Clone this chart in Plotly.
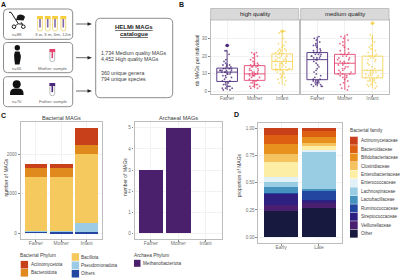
import re
import plotly.graph_objects as go

# ---------- data ----------
groups = ["Father", "Mother", "Infant"]
hq_father = [1,1,2,2,2,3,3,3,4,4,5,5,6,6,7,8,8,9,9,10,10,10,11,11,11,11,11,12,12,12,12,12,13,13,13,13,13,14,14,15,15,15,16,17,18,21,23,23,26]
hq_mother = [2,2,3,3,3,4,4,4,5,5,6,6,6.5,7,8,8,9,9,9,9,10,10,10,10,10,11,11,11,12,12,12,13,13,14,14,14,14.5,15,15,15,16,16,17,18,19,20,21,22,22]
hq_infant = [4,5,6,7,8,8,9,10,10,11,11,12,12,12,12.5,13,13,13,14,14,14,15,15,15,16,16,16,16,17,17,17,18,18,18,19,19,19,20,20,20,20,21,21,22,22,23,23,23,24,24,25,26,27,28,30,33,34]
mq_father = [3,3,3,4,4,4,5,5,5,6,6,6,7,7,8,9,10,11,12,13,14,15,16,17,18,18,19,19,19,20,20,20,21,21,21,22,22,22,23,23,24,25,26,26,27,28,29,30,31]
mq_mother = [1,2,3,4,5,6,7,8,8,9,9,10,10,10,11,11,12,12,13,13,14,14,15,15,16,16,16,17,17,18,18,19,19,20,20,21,21,21,22,23,24,25,26,27,28,29,30,31,32]
mq_infant = [2,3,3,4,4,5,5,6,6,6,7,7,8,8,9,9,9,10,10,10,11,11,11,12,12,12,13,14,15,16,17,18,18,19,19,20,20,20,21,22,23,24,24,25,26,28,30,32,38.5]
hq_outliers = [26, None, 34]
mq_outliers = [None, None, 38.5]

phyla = ["Others", "Pseudomonadota", "Bacillota", "Bacteroidota", "Actinomycetota"]
phyla_father = [55, 5, 1375, 228, 100]
phyla_mother = [45, 5, 1367, 228, 102]
phyla_infant = [42, 211, 1747, 236, 439]
archaea_counts = [3, 5, 0]

stages = ["Early", "Late"]
families = ["Actinomycetaceae", "Bacteroidaceae", "Bifidobacteriaceae", "Clostridiaceae",
            "Enterobacteriaceae", "Enterococcaceae", "Lachnospiraceae", "Lactobacillaceae",
            "Ruminococcaceae", "Streptococcaceae", "Veillonellaceae", "Other"]
family_early = [.067, .08, .093, .072, .132, .046, .05, .055, .005, .10, .055, .245]
family_late = [.03, .047, .061, .022, .04, .01, .345, .015, .085, .035, .04, .27]

# ---------- style ----------
group_colors = ["#4b2a7b", "#e5446f", "#f6d55c"]
phylum_colors = {"Actinomycetota": "#c8401a", "Bacteroidota": "#e08a1e", "Bacillota": "#f6c95f",
                 "Pseudomonadota": "#9ccbe6", "Others": "#2346a0"}
family_colors = ["#c8401a", "#dd5f12", "#e8911f", "#f4c25f", "#fdeea6", "#e2f1f7",
                 "#98cde3", "#4492bd", "#2346a0", "#2e2080", "#4b1f6f", "#17193f"]
archaea_color = "#4a1f6b"
FONT = "Liberation Sans"
W, H = 400, 279


def X(p):
    return p / W


def Y(p):
    return 1 - p / H


def dom_x(a, b):
    return [X(a), X(b)]


def dom_y(top, bottom):
    return [Y(bottom), Y(top)]


def P(s):
    """SVG path written in image pixels -> paper coordinates."""
    out, is_x = [], True
    for tok in re.findall(r"[A-Za-z]|-?\d+\.?\d*", s):
        if tok.isalpha():
            out.append(tok)
            is_x = True
        else:
            v = float(tok)
            out.append(f"{X(v) if is_x else Y(v):.5f}")
            is_x = not is_x
    return " ".join(out)


shapes, notes = [], []


def path(s, fill=None, line=None, lw=1):
    shapes.append(dict(type="path", xref="paper", yref="paper", path=P(s),
                       fillcolor=fill or "rgba(0,0,0,0)",
                       line=dict(color=line or "rgba(0,0,0,0)", width=lw if line else 0)))


def rect(x0, y0, x1, y1, fill=None, line=None, lw=1):
    shapes.append(dict(type="rect", xref="paper", yref="paper", x0=X(x0), x1=X(x1), y0=Y(y0), y1=Y(y1),
                       fillcolor=fill or "rgba(0,0,0,0)",
                       line=dict(color=line or "rgba(0,0,0,0)", width=lw if line else 0)))


def circle(cx, cy, r, fill=None, line=None, lw=1):
    shapes.append(dict(type="circle", xref="paper", yref="paper", x0=X(cx - r), x1=X(cx + r), y0=Y(cy - r), y1=Y(cy + r),
                       fillcolor=fill or "rgba(0,0,0,0)",
                       line=dict(color=line or "rgba(0,0,0,0)", width=lw if line else 0)))


def text(x, y, s, size=5.5, color="#333333", anchor="left", angle=0):
    notes.append(dict(x=X(x), y=Y(y), xref="paper", yref="paper", text=s, showarrow=False,
                      xanchor=anchor, yanchor="middle", textangle=angle, borderpad=0, borderwidth=0,
                      font=dict(size=size, color=color, family=FONT)))


def round_box(x0, y0, x1, y1, r=4, line="#7f7f7f", lw=0.9):
    path(f"M {x0+r} {y0} L {x1-r} {y0} Q {x1} {y0} {x1} {y0+r} L {x1} {y1-r} Q {x1} {y1} {x1-r} {y1} "
         f"L {x0+r} {y1} Q {x0} {y1} {x0} {y1-r} L {x0} {y0+r} Q {x0} {y0} {x0+r} {y0} Z", line=line, lw=lw)


def tube(cx, top, bottom, cap, stripe, wall):
    hw = 2.4
    path(f"M {cx-hw} {top+2} L {cx-hw} {bottom-2} Q {cx-hw} {bottom} {cx} {bottom} "
         f"Q {cx+hw} {bottom} {cx+hw} {bottom-2} L {cx+hw} {top+2}", line=wall, lw=0.8)
    rect(cx - hw - 0.5, top, cx + hw + 0.5, top + 3, fill=cap)
    rect(cx - 0.8, top + 3, cx + 0.8, bottom - 3.5, fill=stripe)


# ---------- panel A ----------
round_box(3.5, 9, 72.7, 39.3)
round_box(3.5, 42.5, 72.7, 72.7)
round_box(3.5, 76.7, 72.7, 106.7)
round_box(95.7, 18.3, 172.7, 97.7, r=5)
for ay in (24, 57.7, 91):
    shapes.append(dict(type="line", xref="paper", yref="paper", x0=X(76), x1=X(88), y0=Y(ay), y1=Y(ay),
                       line=dict(color="#444444", width=0.8)))
    path(f"M 92 {ay} L 87.5 {ay-1.8} L 87.5 {ay+1.8} Z", fill="#222222")
# stroller
path("M 9 12.3 L 11 12.3 L 18.5 24 L 23 24", line="#1a1a1a", lw=1)
path("M 16 20 L 23.5 20.5 L 25 17 Q 24 14.5 20 14.5 L 17.5 15.5 Z", fill="#1a1a1a")
path("M 18 24 L 14 26.5 M 21 22 L 23.3 26.5", line="#1a1a1a", lw=0.8)
circle(14, 26.7, 1.8, line="#1a1a1a", lw=1, fill="#ffffff")
circle(23.3, 26.7, 1.8, line="#1a1a1a", lw=1, fill="#ffffff")
# pregnant mother
circle(17.3, 47.7, 2.7, fill="#111111")
path("M 15 51.5 L 19.5 51.5 Q 21.5 56 20.6 59 L 19.5 64.5 L 15 64.5 L 14.3 59 Q 13.5 55 15 51.5 Z", fill="#111111")
# father
circle(16.7, 84.3, 4, fill="#111111")
path("M 10 95 Q 9.5 88.5 14.5 88.5 L 19 88.5 Q 24 88.5 23.6 95 Z", fill="#111111")
# tubes
for tx in (40, 47.7, 55, 63.3):
    tube(tx, 16, 31, "#f6cf3d", "#7f67a8", "#f0d266")
tube(52.3, 49, 61.7, "#e5446f", "#e5446f", "#a9a9a9")
tube(52.3, 83, 95.7, "#4b2a7b", "#4b2a7b", "#a9a9a9")

GREY = "#5a5a5a"
text(16.7, 34.3, "n=88", 4.2, "#666666", "center")
text(52.5, 34.3, "3 w, 3 m, 6m, 12m", 4.4, "#666666", "center")
text(17, 68.3, "n=66", 4.2, "#666666", "center")
text(53, 68.3, "Mother sample", 4.4, "#666666", "center")
text(17, 101.7, "n=70", 4.2, "#666666", "center")
text(53, 101.7, "Father sample", 4.4, "#666666", "center")
text(134, 26.7, "<b><u>HELMi MAGs</u></b>", 6, "#222222", "center")
text(134, 34.3, "<b><u>catalogue</u></b>", 6, "#222222", "center")
text(101, 53.3, "1,734 Medium quality MAGs", 5.2, "#3d3d3d")
text(101, 59.5, "4,452 High quality MAGs", 5.2, "#3d3d3d")
text(101, 72.7, "360 unique genera", 5.2, "#3d3d3d")
text(101, 79, "794 unique species", 5.2, "#3d3d3d")

# panel letters
text(1, 4.5, "<b>A</b>", 7, "#111111")
text(179, 4.5, "<b>B</b>", 7, "#111111")
text(1, 115.5, "<b>C</b>", 7, "#111111")
text(234, 114.5, "<b>D</b>", 7, "#111111")

# strips of panel B
rect(210.6, 8.5, 298.7, 20, fill="#d9d9d9", line="#b5b5b5", lw=0.8)
rect(300.7, 8.5, 389, 20, fill="#d9d9d9", line="#b5b5b5", lw=0.8)
text(254.7, 14.5, "high quality", 6, "#222222", "center")
text(344.8, 14.5, "medium quality", 6, "#222222", "center")

# axis titles / panel titles
text(197.3, 60, "nb MAGs per individual", 5, "#3d3d3d", "center", -90)
text(5.5, 178, "number of MAGs", 5, "#3d3d3d", "center", -90)
text(125, 177, "number of MAGs", 5, "#3d3d3d", "center", -90)
text(239.3, 175, "proportion of MAGs", 5, "#3d3d3d", "center", -90)
text(61, 118, "Bacterial MAGs", 5.6, "#3d3d3d", "center")
text(178, 118, "Archaeal MAGs", 5.6, "#3d3d3d", "center")

# legends
text(20, 255, "Bacterial Phylum", 4.8, "#3d3d3d")
for nm, sx, sy in (("Actinomycetota", 20.7, 264.7), ("Bacteroidota", 20.7, 272.8),
                   ("Bacillota", 71.7, 257), ("Pseudomonadota", 71.7, 265.3), ("Others", 71.7, 273.7)):
    rect(sx, sy - 3.8, sx + 7.4, sy + 3.8, fill=phylum_colors[nm])
    text(sx + 10.5 if sx < 50 else sx + 9.3, sy, nm, 4.6, "#3d3d3d")
text(134, 255.7, "Archaea Phylum", 4.8, "#3d3d3d")
rect(134, 259.8, 140.5, 266.8, fill=archaea_color)
text(142.7, 263, "Methanobacteriota", 4.6, "#3d3d3d")
text(350, 130.7, "Bacterial family", 4.8, "#3d3d3d")
for i, (fam, col) in enumerate(zip(families, family_colors)):
    cy = 140.7 + 8.45 * i
    rect(350, cy - 4, 357.7, cy + 4, fill=col)
    text(360.7, cy, fam, 4.5, "#3d3d3d")

# ---------- figure ----------
fig = go.Figure()

box_sets = [("x", "y", [hq_father, hq_mother, hq_infant], hq_outliers),
            ("x2", "y2", [mq_father, mq_mother, mq_infant], mq_outliers)]
for xa, ya, sets, outs in box_sets:
    for g, vals, col, out in zip(groups, sets, group_colors, outs):
        fig.add_trace(go.Box(x=[g] * len(vals), y=vals, xaxis=xa, yaxis=ya, name=g,
                             boxpoints="all", jitter=0.75, pointpos=0, width=0.75, whiskerwidth=0,
                             quartilemethod="linear", line=dict(color=col, width=0.9),
                             fillcolor="rgba(255,255,255,0)",
                             marker=dict(color=col, size=1.8, opacity=0.8), hoverinfo="skip"))
        if out is not None:
            fig.add_trace(go.Scatter(x=[g], y=[out], xaxis=xa, yaxis=ya, mode="markers",
                                     marker=dict(color=col, size=3.6), hoverinfo="skip"))

phylum_values = dict(zip(phyla, zip(phyla_father, phyla_mother, phyla_infant)))
for nm in phyla:
    fig.add_trace(go.Bar(x=groups, y=list(phylum_values[nm]), xaxis="x3", yaxis="y3", width=0.9,
                         marker=dict(color=phylum_colors[nm], line=dict(width=0)), hoverinfo="skip"))
fig.add_trace(go.Bar(x=groups, y=archaea_counts, xaxis="x4", yaxis="y4", width=0.9,
                     marker=dict(color=archaea_color, line=dict(width=0)), hoverinfo="skip"))
for i in range(len(families) - 1, -1, -1):
    fig.add_trace(go.Bar(x=stages, y=[family_early[i], family_late[i]], xaxis="x5", yaxis="y5", width=0.9,
                         marker=dict(color=family_colors[i], line=dict(width=0)), hoverinfo="skip"))


def xax(a, b, anchor, cats, rng, lw=1):
    return dict(domain=dom_x(a, b), anchor=anchor, type="category", categoryorder="array", categoryarray=cats,
                range=rng, showline=True, mirror=True, linecolor="#bdbdbd", linewidth=lw,
                ticks="outside", ticklen=1.8, tickwidth=0.6, tickcolor="#888888", showgrid=True,
                gridcolor="#f2f2f2", gridwidth=0.5, zeroline=False, fixedrange=True, ticklabelstandoff=-3,
                tickfont=dict(size=4.9, color="#707070", family=FONT))


def yax(top, bottom, anchor, rng, vals, labels=None, lw=1, show=True):
    return dict(domain=dom_y(top, bottom), anchor=anchor, range=rng, tickmode="array", tickvals=vals,
                ticktext=labels or [str(v) for v in vals], showticklabels=show,
                showline=True, mirror=True, linecolor="#bdbdbd", linewidth=lw,
                ticks="outside" if show else "", ticklen=1.8, tickwidth=0.6, tickcolor="#888888", showgrid=True,
                gridcolor="#f2f2f2", gridwidth=0.5, zeroline=False, fixedrange=True,
                tickfont=dict(size=4.5, color="#707070", family=FONT))


fig.update_layout(
    width=W, height=H, autosize=False, margin=dict(l=0, r=0, t=0, b=0, pad=0),
    paper_bgcolor="white", plot_bgcolor="white", showlegend=False,
    barmode="stack", bargap=0.1, boxmode="overlay",
    font=dict(family=FONT, size=5),
    xaxis=xax(210.6, 298.7, "y", groups, [-0.6, 2.6]),
    yaxis=yax(20, 94, "x", [-1.3, 40.3], [0, 10, 20, 30]),
    xaxis2=xax(300.7, 389, "y2", groups, [-0.6, 2.6]),
    yaxis2=yax(20, 94, "x2", [-1.3, 40.3], [0, 10, 20, 30], show=False),
    xaxis3=xax(20.7, 101.7, "y3", groups, [-0.6, 2.6], lw=1.3),
    yaxis3=yax(122, 239, "x3", [-144, 2818], [0, 1000, 2000], lw=1.3),
    xaxis4=xax(134.5, 222, "y4", groups, [-0.6, 2.6], lw=1.3),
    yaxis4=yax(122, 239, "x4", [-0.27, 5.28], [0, 1, 2, 3, 4, 5], lw=1.3),
    xaxis5=xax(258.3, 341.7, "y5", stages, [-0.6, 1.6], lw=1.3),
    yaxis5=yax(122.7, 242.7, "x5", [-0.05, 1.05], [0, 0.25, 0.5, 0.75, 1],
               ["0.00", "0.25", "0.50", "0.75", "1.00"], lw=1.3),
    shapes=shapes, annotations=notes,
)

fig.write_html("out.html", config=dict(displayModeBar=False, responsive=False),
               post_script="document.body.style.margin='0';document.documentElement.style.overflow='hidden';")
